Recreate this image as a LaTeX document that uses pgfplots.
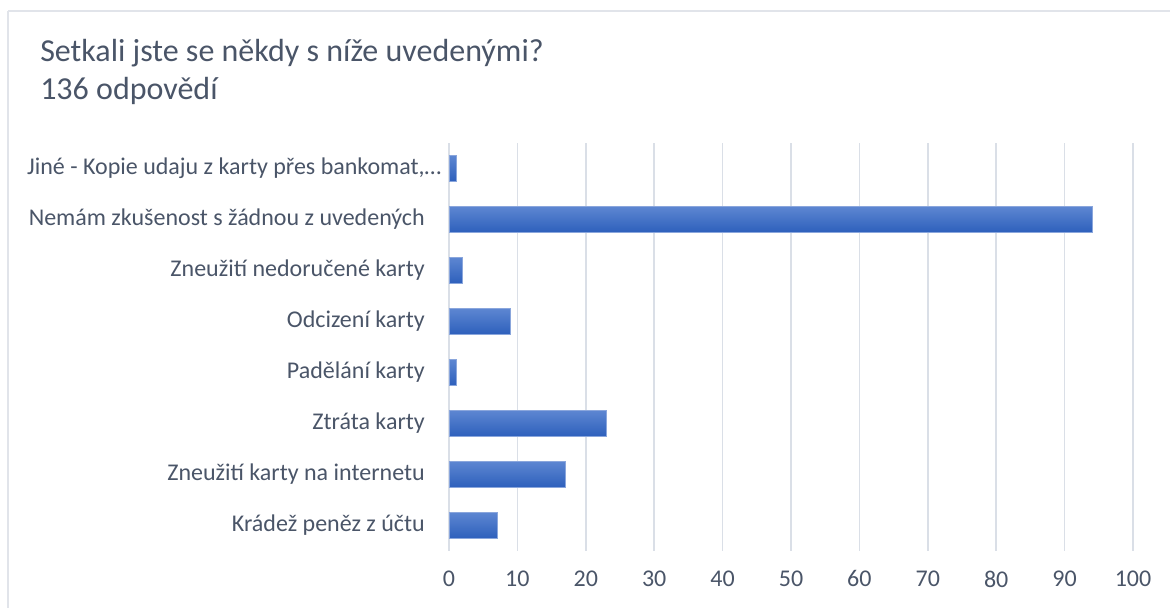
\documentclass[border=0pt]{standalone}
\usepackage{pgfplots}
\pgfplotsset{compat=1.18}
\usepackage{fontspec}
\setmainfont{Carlito}
\definecolor{txt}{HTML}{4A5568}
\definecolor{grd}{HTML}{DADFE7}
\definecolor{frm}{HTML}{E1E4EA}
\definecolor{bartop}{HTML}{5E87D2}
\definecolor{barbot}{HTML}{2E60BC}
\definecolor{baredge}{HTML}{8AA6DC}
\begin{document}
\begin{tikzpicture}[x=0.75pt,y=0.75pt]
\path[use as bounding box] (0,0) rectangle (1170,607);
\draw[frm, line width=1.2pt] (8,596) -- (1190,596);
\draw[frm, line width=1.2pt] (8,596) -- (8,-10);
\node[anchor=base west, inner sep=0pt, text=txt, font=\fontsize{24pt}{28pt}\selectfont] at (40,545) {Setkali jste se někdy s níže uvedenými?};
\node[anchor=base west, inner sep=0pt, text=txt, font=\fontsize{24pt}{28pt}\selectfont] at (40,507) {136 odpovědí};
\begin{axis}[
  at={(336.75pt,42.375pt)}, anchor=south west,
  scale only axis, width=513pt, height=306pt,
  xmin=0, xmax=100, ymin=-0.5, ymax=7.5,
  xbar, bar width=19.5pt, bar shift=0pt,
  axis line style={draw=none},
  xtick={0,10,...,100},
  ytick={0,...,7},
  yticklabels={Krádež peněz z účtu, Zneužití karty na internetu, Ztráta karty, Padělání karty, Odcizení karty, Zneužití nedoručené karty, Nemám zkušenost s žádnou z uvedených, {Jiné - Kopie udaju z karty přes bankomat,\rlap{…}}},
  major tick length=0pt,
  xmajorgrids, grid style={grd, line width=1.1pt},
  /pgf/number format/assume math mode=true,
  ticklabel style={text=txt, font=\fontsize{18pt}{21pt}\selectfont},
  yticklabel style={inner sep=0pt, xshift=-18pt},
  xticklabel style={inner sep=0pt, yshift=-15pt},
  barsty/.style={draw=baredge, line width=0.5pt, top color=bartop, bottom color=barbot},
]
\addplot[barsty] coordinates {(7,0)};
\addplot[barsty] coordinates {(17,1)};
\addplot[barsty] coordinates {(23,2)};
\addplot[barsty] coordinates {(1,3)};
\addplot[barsty] coordinates {(9,4)};
\addplot[barsty] coordinates {(2,5)};
\addplot[barsty] coordinates {(94,6)};
\addplot[barsty] coordinates {(1,7)};
\end{axis}
\end{tikzpicture}
\end{document}
